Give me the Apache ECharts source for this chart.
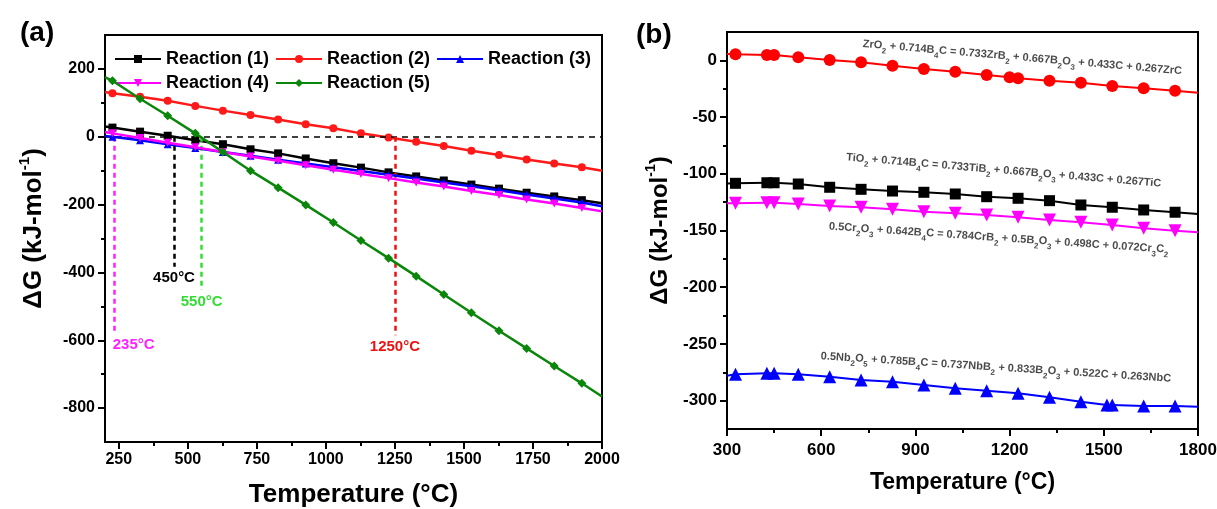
<!DOCTYPE html>
<html>
<head>
<meta charset="utf-8">
<script src="https://cdn.jsdelivr.net/npm/echarts@6/dist/echarts.min.js"></script>
<style>
  html, body { margin: 0; padding: 0; background: #fff; }
  #chart { width: 1217px; height: 509px; }
</style>
</head>
<body>
<div id="chart"></div>
<script>
// ---------- Panel (a): ΔG of reactions (1)-(5) ----------
const tempA = [200, 227, 327, 427, 527, 627, 727, 827, 927, 1027, 1127, 1227, 1327, 1427, 1527, 1627, 1727, 1827, 1927, 2000];
const reaction1 = [30, 27, 15, 3, -10, -22, -37, -49, -64, -78, -91, -105, -117, -129, -141, -153, -165, -176, -187, -196];
const reaction2 = [132, 128, 118, 106, 91, 77, 64, 51, 37, 25, 10, -2, -15, -27, -41, -54, -67, -79, -90, -100];
const reaction3 = [2, 0, -10, -22, -33, -45, -56, -68, -79, -90, -101, -112, -123, -135, -146, -158, -170, -182, -194, -205];
const reaction4 = [14, 10, -4, -18, -31, -45, -58, -71, -84, -97, -110, -122, -135, -147, -160, -172, -185, -197, -210, -220];
const reaction5 = [176, 165, 112, 62, 10, -45, -100, -150, -201, -253, -306, -358, -411, -465, -519, -572, -624, -676, -727, -766];
const reactionNames = ['Reaction (1)', 'Reaction (2)', 'Reaction (3)', 'Reaction (4)', 'Reaction (5)'];
// onset temperatures marked with dashed drop lines: reaction 4, 1, 5, 2
const onsetTemps = [235, 450, 550, 1250];

const ticksAX = [250, 500, 750, 1000, 1250, 1500, 1750, 2000];
const minorAX = [375, 625, 875, 1125, 1375, 1625, 1875];
const ticksAY = [-800, -600, -400, -200, 0, 200];
const minorAY = [-700, -500, -300, -100, 100];

// ---------- Panel (b): oxide + B4C reactions ----------
const tempZr = [300, 327, 427, 450, 527, 627, 727, 827, 927, 1027, 1127, 1200, 1227, 1327, 1427, 1527, 1627, 1727, 1800];
const dgZr = [5.5, 5.3, 4.7, 4.7, 2.7, 0.3, -1.7, -4.7, -7.6, -10.0, -12.9, -14.9, -15.8, -17.9, -19.7, -22.6, -24.6, -26.7, -28.5];
const tempTiCr = [300, 327, 427, 450, 527, 627, 727, 827, 927, 1027, 1127, 1227, 1327, 1427, 1527, 1627, 1727, 1800];
const dgTi = [-108.5, -108.4, -107.9, -107.9, -109.0, -111.9, -113.7, -115.2, -116.3, -117.8, -120.2, -121.6, -123.7, -127.5, -129.5, -131.9, -133.9, -135.5];
const dgCr = [-126.0, -126.0, -125.5, -125.5, -126.6, -128.4, -129.5, -131.3, -133.4, -134.8, -136.3, -138.4, -140.7, -142.8, -145.1, -148.0, -150.2, -151.6];
const tempNb = [300, 327, 427, 450, 527, 627, 727, 827, 927, 1027, 1127, 1227, 1327, 1427, 1510, 1527, 1627, 1727, 1800];
const dgNb = [-278.0, -276.8, -275.9, -275.9, -276.8, -278.9, -281.8, -283.3, -286.2, -289.1, -291.2, -293.5, -297.0, -300.9, -303.8, -303.8, -304.7, -304.7, -305.3];

const ticksBY = [-300, -250, -200, -150, -100, -50, 0];
const minorBY = [-275, -225, -175, -125, -75, -25];

// reaction equations (rich text: t = normal, s = subscript)
const eqZr = '{t|ZrO}{s|2}{t| + 0.714B}{s|4}{t|C = 0.733ZrB}{s|2}{t| + 0.667B}{s|2}{t|O}{s|3}{t| + 0.433C + 0.267ZrC}';
const eqTi = '{t|TiO}{s|2}{t| + 0.714B}{s|4}{t|C = 0.733TiB}{s|2}{t| + 0.667B}{s|2}{t|O}{s|3}{t| + 0.433C + 0.267TiC}';
const eqCr = '{t|0.5Cr}{s|2}{t|O}{s|3}{t| + 0.642B}{s|4}{t|C = 0.784CrB}{s|2}{t| + 0.5B}{s|2}{t|O}{s|3}{t| + 0.498C + 0.072Cr}{s|3}{t|C}{s|2}';
const eqNb = '{t|0.5Nb}{s|2}{t|O}{s|5}{t| + 0.785B}{s|4}{t|C = 0.737NbB}{s|2}{t| + 0.833B}{s|2}{t|O}{s|3}{t| + 0.522C + 0.263NbC}';

// ---------- helpers ----------
const FONT = 'Arial, "Liberation Sans", Helvetica, sans-serif';
const plainNumber = v => String(v);

// line data; the end points carry no marker
function points(xs, ys) {
  return xs.map((x, i) => {
    const item = { value: [x, ys[i]] };
    if (i === 0 || i === xs.length - 1) item.symbol = 'none';
    return item;
  });
}

function mainAxis(gridIndex, min, max, ticks, fontSize, margin, extra) {
  return Object.assign({
    type: 'value', gridIndex, min, max,
    axisLine: { show: true, onZero: false, lineStyle: { color: '#000', width: 2 } },
    axisTick: { show: true, customValues: ticks, length: 7, lineStyle: { color: '#000', width: 2 } },
    axisLabel: { customValues: ticks, margin, formatter: plainNumber, color: '#000', fontSize, fontWeight: 'bold', fontFamily: FONT },
    splitLine: { show: false }
  }, extra);
}

function minorAxis(gridIndex, min, max, ticks, position) {
  return {
    type: 'value', gridIndex, min, max, position,
    axisLine: { show: false, onZero: false },
    axisTick: { show: true, customValues: ticks, length: 4, lineStyle: { color: '#000', width: 2 } },
    axisLabel: { show: false },
    splitLine: { show: false }
  };
}

const yNameRich = {
  a: { fontSize: 26, fontWeight: 'bold', fontFamily: FONT, color: '#000', verticalAlign: 'bottom', padding: [4, 0, 0, 0] },
  s: { fontSize: 15, fontWeight: 'bold', fontFamily: FONT, color: '#000', verticalAlign: 'top' }
};
const yNameText = '{a|ΔG (kJ-mol}{s|-1}{a|)}';

function dropLine(t, yEnd, color, labelOffset) {
  return [
    { coord: [t, 0], lineStyle: { color, type: [5, 4], width: 2.5 },
      label: { show: true, position: 'end', formatter: t + '°C', color, fontSize: 15, fontWeight: 'bold', fontFamily: FONT, distance: 4, offset: labelOffset || [0, 0] } },
    { coord: [t, yEnd] }
  ];
}

const aColors = ['#000000', '#ff1a1a', '#0000ff', '#ff00ff', '#0a870a'];
const aSymbols = ['rect', 'circle', 'triangle', 'triangle', 'diamond'];
const aData = [reaction1, reaction2, reaction3, reaction4, reaction5];

const seriesA = aData.map((vals, i) => ({
  type: 'line', name: reactionNames[i], xAxisIndex: 0, yAxisIndex: 0,
  data: points(tempA, vals),
  symbol: aSymbols[i], symbolSize: i === 4 ? 9 : 8, symbolRotate: i === 3 ? 180 : 0,
  lineStyle: { color: aColors[i], width: 2.5 },
  itemStyle: { color: aColors[i] },
  z: 3 + i
}));

// dashed guide lines
seriesA[0].markLine = {
  silent: true, symbol: ['none', 'none'], animation: false,
  data: [
    { yAxis: 0, lineStyle: { color: '#000', type: [6, 5], width: 1.5 }, label: { show: false } },
    dropLine(onsetTemps[1], -383, '#000000')
  ]
};
seriesA[3].markLine = { silent: true, symbol: ['none', 'none'], animation: false,
  data: [dropLine(onsetTemps[0], -580, '#ff22ff', [19, 0])] };
seriesA[4].markLine = { silent: true, symbol: ['none', 'none'], animation: false,
  data: [dropLine(onsetTemps[2], -452, '#33dd33')] };
seriesA[1].markLine = { silent: true, symbol: ['none', 'none'], animation: false,
  data: [dropLine(onsetTemps[3], -585, '#ee1111')] };

function bLine(xs, ys, color, symbol, size, rotate) {
  return {
    type: 'line', xAxisIndex: 2, yAxisIndex: 2,
    data: points(xs, ys),
    symbol, symbolSize: size, symbolRotate: rotate || 0,
    lineStyle: { color, width: 2 },
    itemStyle: { color }
  };
}

const eqRich = {
  t: { fontSize: 11, fontWeight: 'bold', fontFamily: FONT, color: '#1a1a1a', verticalAlign: 'top' },
  s: { fontSize: 8, fontWeight: 'bold', fontFamily: FONT, color: '#1a1a1a', verticalAlign: 'top', padding: [7, 0, 0, 0] }
};

function equation(text, anchor, angle) {
  return {
    type: 'scatter', xAxisIndex: 2, yAxisIndex: 2, silent: true,
    symbolSize: 0, data: [anchor],
    label: { show: true, position: 'inside', rotate: angle, formatter: text, rich: eqRich }
  };
}

const option = {
  animation: false,
  backgroundColor: '#fff',
  title: [
    { text: '(a)', left: 15, top: 14, textStyle: { fontSize: 28, fontWeight: 'bold', fontFamily: FONT, color: '#000' } },
    { text: '(b)', left: 631, top: 16, textStyle: { fontSize: 28, fontWeight: 'bold', fontFamily: FONT, color: '#000' } }
  ],
  legend: [
    { data: reactionNames.slice(0, 3), left: 109, top: 45, itemWidth: 46, itemHeight: 10, itemGap: 6,
      textStyle: { fontSize: 18, fontWeight: 'bold', fontFamily: FONT, color: '#000' } },
    { data: reactionNames.slice(3), left: 109, top: 69, itemWidth: 46, itemHeight: 10, itemGap: 6,
      textStyle: { fontSize: 18, fontWeight: 'bold', fontFamily: FONT, color: '#000' } }
  ],
  grid: [
    { left: 105, top: 35, width: 497, height: 407, outerBoundsMode: 'none', containLabel: false,
      show: true, borderColor: '#000', borderWidth: 2, backgroundColor: 'transparent' },
    { left: 727, top: 32, width: 471, height: 397, outerBoundsMode: 'none', containLabel: false,
      show: true, borderColor: '#000', borderWidth: 2, backgroundColor: 'transparent' }
  ],
  xAxis: [
    mainAxis(0, 200, 2000, ticksAX, 16, 10, {
      position: 'bottom',
      name: 'Temperature (°C)', nameLocation: 'middle', nameGap: 40,
      nameTextStyle: { fontSize: 26, fontWeight: 'bold', fontFamily: FONT, color: '#000' }
    }),
    minorAxis(0, 200, 2000, minorAX, 'bottom'),
    {
      type: 'value', gridIndex: 1, min: 300, max: 1800, interval: 300, position: 'bottom',
      axisLine: { show: true, onZero: false, lineStyle: { color: '#000', width: 2 } },
      axisTick: { show: true, length: 7, lineStyle: { color: '#000', width: 2 } },
      minorTick: { show: true, splitNumber: 2, length: 4, lineStyle: { color: '#000', width: 2 } },
      axisLabel: { margin: 13, formatter: plainNumber, color: '#000', fontSize: 17, fontWeight: 'bold', fontFamily: FONT },
      splitLine: { show: false }, minorSplitLine: { show: false },
      name: 'Temperature (°C)', nameLocation: 'middle', nameGap: 42,
      nameTextStyle: { fontSize: 23, fontWeight: 'bold', fontFamily: FONT, color: '#000' }
    }
  ],
  yAxis: [
    mainAxis(0, -900, 300, ticksAY, 16, 10, {
      position: 'left',
      name: yNameText, nameLocation: 'middle', nameGap: 58,
      nameTextStyle: { rich: yNameRich, padding: [0, 0, 0, 20] }
    }),
    minorAxis(0, -900, 300, minorAY, 'left'),
    mainAxis(1, -325, 25, ticksBY, 17, 10, {
      position: 'left',
      name: yNameText, nameLocation: 'middle', nameGap: 55,
      nameTextStyle: { rich: {
        a: Object.assign({}, yNameRich.a, { fontSize: 24 }),
        s: Object.assign({}, yNameRich.s, { fontSize: 14 })
      } }
    }),
    minorAxis(1, -325, 25, minorBY, 'left')
  ],
  series: seriesA.concat([
    bLine(tempZr, dgZr, '#ff0000', 'circle', 12),
    bLine(tempTiCr, dgTi, '#000000', 'rect', 11),
    bLine(tempTiCr, dgCr, '#ff00ff', 'triangle', 13, 180),
    bLine(tempNb, dgNb, '#0000ff', 'triangle', 13),
    equation(eqZr, [1240, 0.7], -4.9),
    equation(eqTi, [1181, -98.9], -4.8),
    equation(eqCr, [1165, -158.4], -3.9),
    equation(eqNb, [1156, -272.5], -3.7)
  ])
};

const chart = echarts.init(document.getElementById('chart'), null, { renderer: 'canvas' });
chart.setOption(option);
</script>
</body>
</html>
